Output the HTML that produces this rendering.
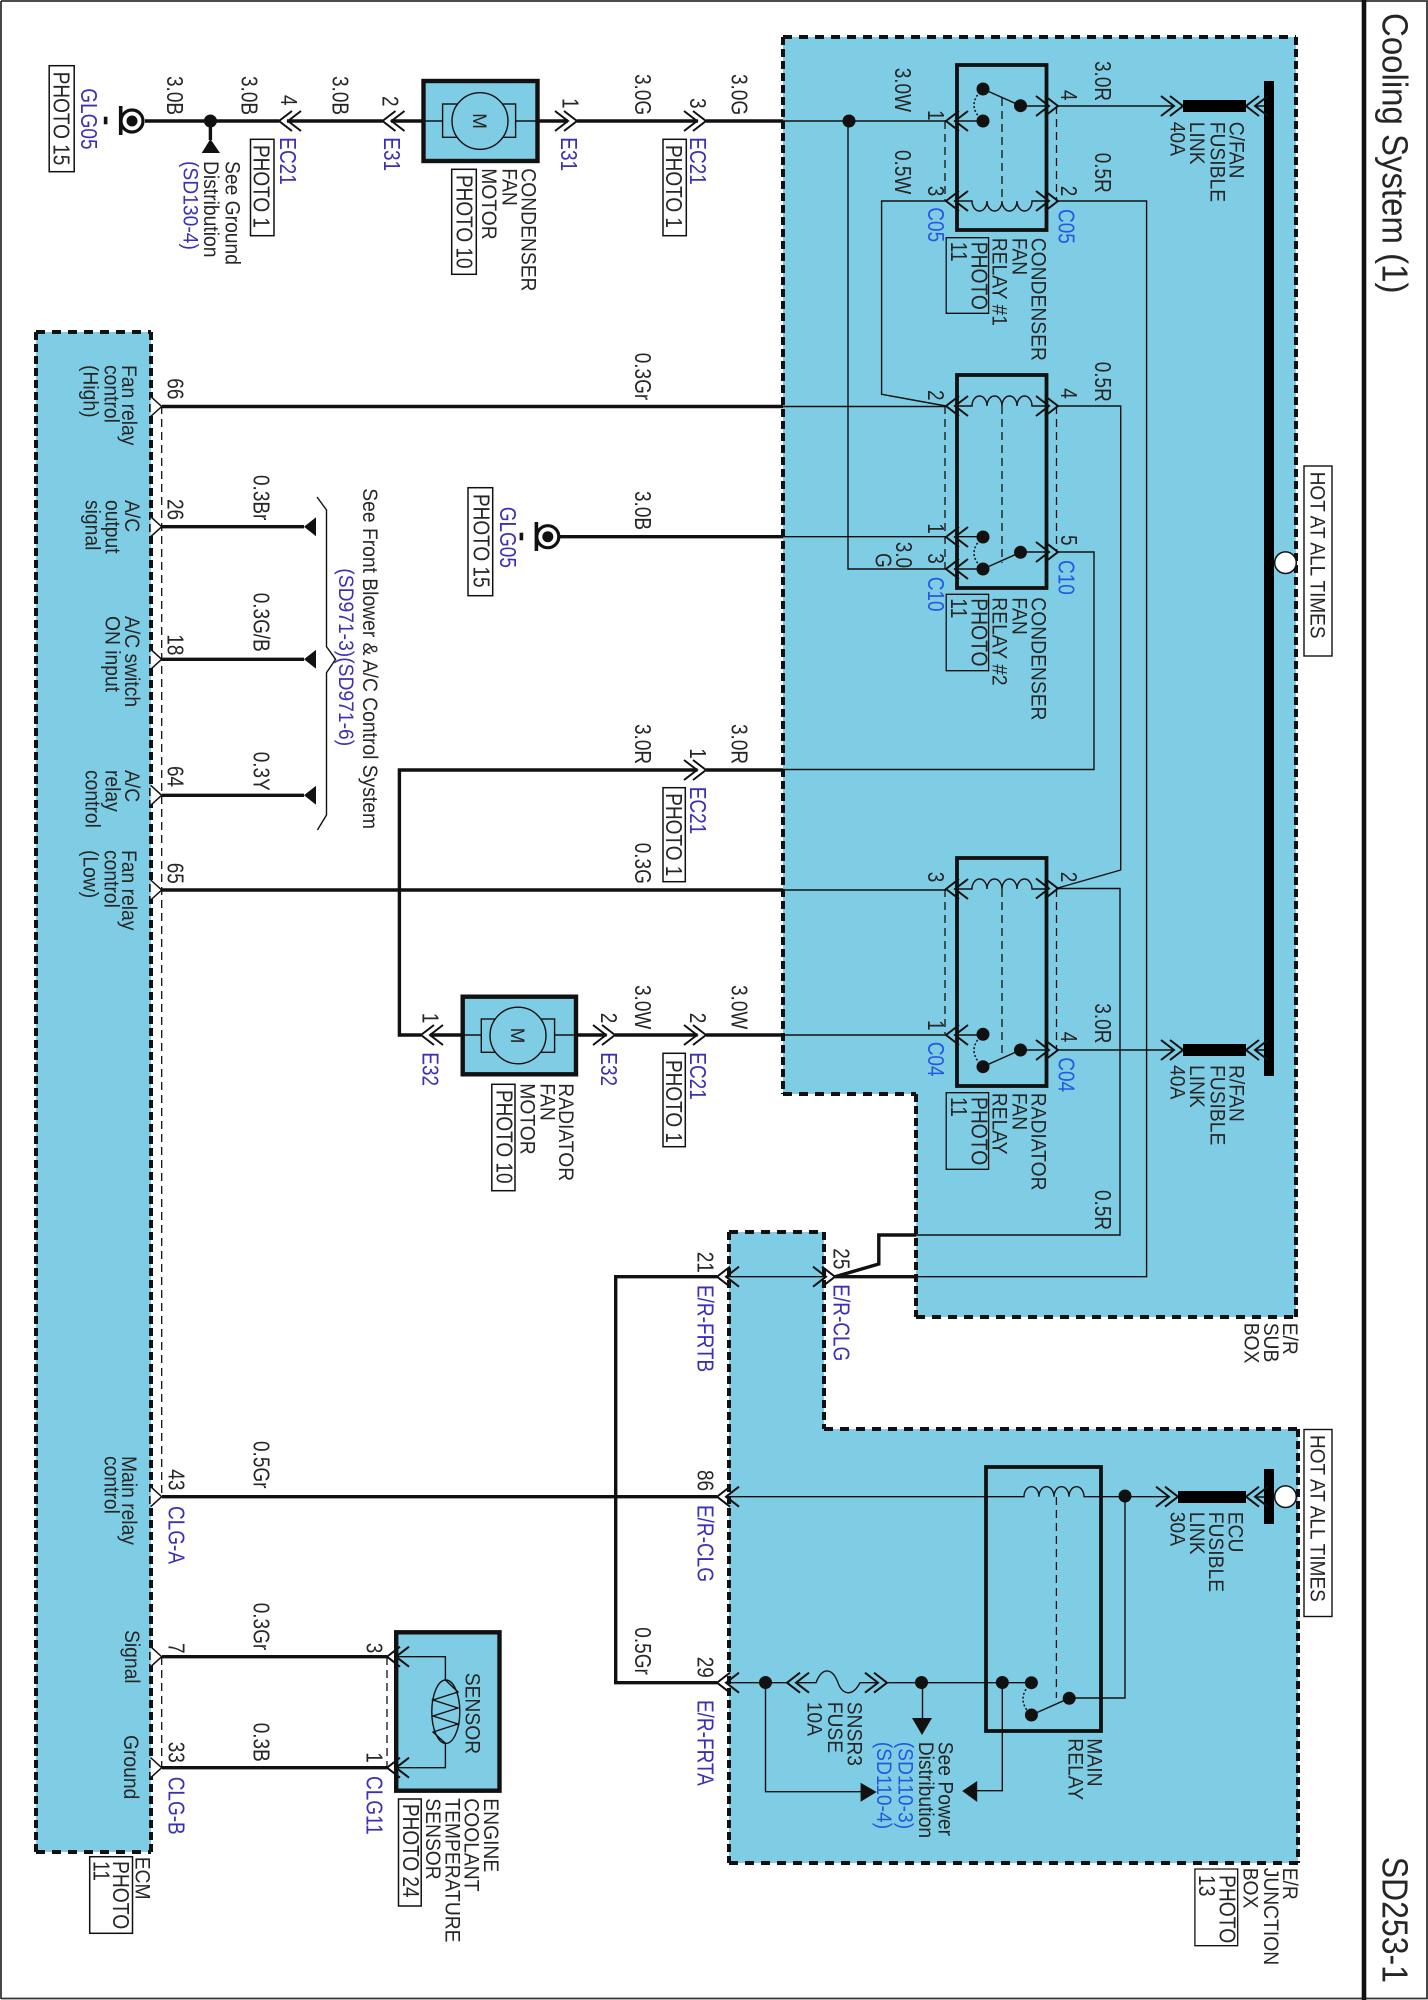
<!DOCTYPE html>
<html><head><meta charset="utf-8"><title>Cooling System (1)</title>
<style>
html,body{margin:0;padding:0;background:#fff}
svg{display:block;filter:blur(0.35px)}
text{font-family:"Liberation Sans",sans-serif;fill:#262626}
.a{font-size:19px}
.b{font-size:19.3px}
.u{fill:#3b30b4}
.c{fill:#2458e0}
.w{fill:none;stroke:#111;stroke-width:3.4}
.n{fill:none;stroke:#111;stroke-width:1.4}
.d{fill:none;stroke:#111;stroke-width:1.3;stroke-dasharray:8 5}
.dh{fill:none;stroke:#111;stroke-width:4;stroke-dasharray:9 7}
.dv{fill:none;stroke:#111;stroke-width:4;stroke-dasharray:8 4}
.o{fill:none;stroke:#111;stroke-width:2}
.p{fill:#fff;stroke:#111;stroke-width:1.5}
.q{fill:none;stroke:#111;stroke-width:1.3}
.r{fill:none;stroke:#111;stroke-width:3.8}
.k{fill:#7fcde4;stroke:#111;stroke-width:4.4}
.m{fill:#7fcde4;stroke:#111;stroke-width:1.4}
.s{fill:none;stroke:#111;stroke-width:1.5;stroke-dasharray:2 2}
</style></head><body>
<svg width="1428" height="2000" viewBox="0 0 1428 2000" xmlns="http://www.w3.org/2000/svg">
<defs>
<path id="L" class="o" d="M13-10L0 0L13 10M22-10L9 0L22 10"/>
<path id="R" class="o" d="M-13-10L0 0L-13 10M-22-10L-9 0L-22 10"/>
<path id="P" class="p" d="M-11-10L0 0L-11 10"/>
<circle id="D" r="6.5" fill="#111"/>
<path id="T" fill="#111" d="M0 0L12-9.5V9.5Z"/>
</defs>
<rect width="1428" height="2000" fill="#fff"/>
<path d="M1 1H1427V1998.5H1" fill="none" stroke="#333" stroke-width="1.8"/>
<path d="M1 1V1999" fill="none" stroke="#333" stroke-width="1.8"/>
<path d="M1364 0V2000" fill="none" stroke="#111" stroke-width="4.6"/>

<!-- regions -->
<path fill="#7fcde4" d="M36 332H151V1852H36Z"/>
<path class="dh" d="M36 332H151M36 1852H151"/><path class="dv" d="M36 332V1852M151 332V1852"/>
<path fill="#7fcde4" d="M783 37H1296V1317H916V1094H783Z"/>
<path class="dh" d="M783 37H1296M783 1094H916M916 1317H1296"/><path class="dv" d="M783 37V1094M916 1094V1317M1296 37V1317"/>
<path fill="#7fcde4" d="M729 1232H824V1429H1298V1863H729Z"/>
<path class="dh" d="M729 1232H824M824 1429H1298M729 1863H1298"/><path class="dv" d="M729 1232V1863M824 1232V1429M1298 1429V1863"/>
<rect fill="#7fcde4" x="396.2" y="1632.3" width="103.3" height="158.4"/>

<!-- bus -->
<rect x="1264" y="81" width="10" height="995" fill="#000"/>
<rect x="1264" y="1469" width="10" height="55" fill="#000"/>
<rect x="1304" y="466" width="28" height="190" fill="#fff" stroke="#111" stroke-width="1.4"/>
<rect x="1304" y="1429.5" width="28" height="187" fill="#fff" stroke="#111" stroke-width="1.4"/>
<circle cx="1285.5" cy="562.7" r="10.8" fill="#fff" stroke="#111" stroke-width="1.5"/>
<circle cx="1285.5" cy="1496.7" r="10.8" fill="#fff" stroke="#111" stroke-width="1.5"/>

<!-- thick wires -->
<path class="w" d="M145 121H279M287 121H382.5M391 121H423.5M537 121H568M577 121H698M706 121H783"/>
<path class="w" d="M162 406.5H783M162 526.7H304M162 659.3H304M162 795.3H304M162 890H783"/>
<path class="w" d="M560 536.7H783M783 770H706M697.6 770H399.4V1035H421M430 1035H462.7M576 1035H606.6M615 1035H697.6M706 1035H783"/>
<path class="w" d="M916 1276.7H835M916 1235H878.8V1264L835 1276.7"/>
<path class="w" d="M717 1276.7H615.7V1682.7H717M162 1496.7H717M162 1656.7H387M162 1767.7H387"/>
<path class="w" d="M210.4 121V140"/>

<!-- thin wires -->
<path class="n" d="M783 121H946M955 121H983M848 121V569H946M955 569H983M1020 106H1049M1058 106H1174"/>
<path class="n" d="M955 201H972a7.5 10 0 0 0 15 0a7.5 10 0 0 0 15 0a7.5 10 0 0 0 15 0a7.5 10 0 0 0 15 0H1049"/>
<path class="n" d="M1058 201H1146.6V1276.7H916M946 201H881.6V394.3L946 406"/>
<path class="n" d="M783 406.5H946M955 406H972a7.5 10 0 0 1 15 0a7.5 10 0 0 1 15 0a7.5 10 0 0 1 15 0a7.5 10 0 0 1 15 0H1049"/>
<path class="n" d="M1058 406H1120.7V870L1056 888.5H1120V1235H916"/>
<path class="n" d="M783 536.7H946M955 536.7H983M1020 552H1049M1058 552H1094V769.5H783"/>
<path class="n" d="M783 890H946M955 889H972a7.5 10 0 0 1 15 0a7.5 10 0 0 1 15 0a7.5 10 0 0 1 15 0a7.5 10 0 0 1 15 0H1049"/>
<path class="n" d="M783 1035H946M955 1035H983M1020 1050H1049M1058 1050H1174"/>
<path class="n" d="M726 1276.7H825"/>
<path class="n" d="M726 1496.7H1024a7.5 10 0 0 1 15 0a7.5 10 0 0 1 15 0a7.5 10 0 0 1 15 0a7.5 10 0 0 1 15 0H1170M1125 1497V1698H1069"/>
<path class="n" d="M726 1682.7H787M796 1682.7H816C822 1667 832 1667 838 1682.7C842 1694 852 1698 860 1682.7H878M887 1682.7H1031"/>
<path class="n" d="M922.5 1682.7V1720M765.5 1682.7V1791.7H862M1002.3 1682.7V1790.7H975"/>
<path class="n" d="M1255 106H1264M1255 1050H1264M1255 1497H1264"/>
<path class="n" d="M397 1656.7H445.4V1680M445.4 1743.3V1767.7H397"/>

<!-- dashed -->
<path class="d" d="M161.7 406V1497M161.7 1657V1768M387 1657V1768"/>
<path class="d" d="M945 121V201M945 406V569M945 889V1034M1056.5 106V201M1056.5 406V552M1056.5 889V1050M1002 98V201M1002 406V563M1002 889V1057M1056.4 1497V1698"/>

<!-- relays -->
<rect class="r" x="957" y="65" width="89.5" height="165"/>
<rect class="r" x="957" y="375" width="89.5" height="213"/>
<rect class="r" x="957" y="858" width="89.5" height="228"/>
<rect class="r" x="986" y="1467" width="115" height="264"/>

<!-- contacts -->
<path class="n" d="M983 89L1020.5 105.7M983 569L1020.5 552.3M983 1066.7L1020.5 1050M1031.4 1715L1069 1698.3"/>
<path class="s" d="M983 89Q965 105 983 121M983 537Q965 553 983 569M983 1034Q965 1050 983 1067M1031 1683Q1015 1699 1031 1715"/>
<use href="#D" x="983" y="89"/><use href="#D" x="983" y="121"/><use href="#D" x="1020.5" y="105.7"/>
<use href="#D" x="983" y="537"/><use href="#D" x="983" y="569"/><use href="#D" x="1020.5" y="552.3"/>
<use href="#D" x="983" y="1034.3"/><use href="#D" x="983" y="1066.7"/><use href="#D" x="1020.5" y="1050"/>
<use href="#D" x="1031.4" y="1682.7"/><use href="#D" x="1031.4" y="1715"/><use href="#D" x="1069.2" y="1698.3"/>
<use href="#D" x="849" y="121"/><use href="#D" x="210.4" y="121"/>
<use href="#D" x="1125" y="1496"/><use href="#D" x="765.5" y="1682.5"/><use href="#D" x="921.5" y="1682.5"/><use href="#D" x="1002.3" y="1682.5"/>

<!-- connectors -->
<use href="#L" x="279" y="121"/><use href="#L" x="382.5" y="121"/><use href="#R" x="577" y="121"/><use href="#R" x="706" y="121"/>
<use href="#R" x="706" y="770"/><use href="#L" x="421" y="1035"/><use href="#R" x="615" y="1035"/><use href="#R" x="706" y="1035"/>
<use href="#L" x="946" y="121"/><use href="#L" x="946" y="201"/><use href="#R" x="1058" y="106"/><use href="#R" x="1058" y="201"/>
<use href="#L" x="946" y="406"/><use href="#L" x="946" y="537"/><use href="#L" x="946" y="569"/><use href="#R" x="1058" y="406"/><use href="#R" x="1058" y="552"/>
<use href="#L" x="946" y="889"/><use href="#L" x="946" y="1035"/><use href="#R" x="1058" y="888.5"/><use href="#R" x="1058" y="1050"/>
<use href="#R" x="1183" y="106"/><use href="#R" x="1183" y="1050"/><use href="#R" x="1178" y="1496.7"/>
<use href="#L" x="1246" y="106"/><use href="#L" x="1246" y="1050"/><use href="#L" x="1246" y="1496.7"/>
<use href="#L" x="717" y="1276.7"/><use href="#L" x="717" y="1496.7"/><use href="#L" x="717" y="1682.7"/>
<use href="#R" x="835" y="1276.7"/>
<use href="#L" x="787" y="1682.7"/><use href="#R" x="887" y="1682.7"/>
<use href="#L" x="387" y="1656.7"/><use href="#L" x="387" y="1767.7"/>
<use href="#P" x="161.7" y="406.5"/><use href="#P" x="161.7" y="526.7"/><use href="#P" x="161.7" y="659.3"/><use href="#P" x="161.7" y="795.3"/><use href="#P" x="161.7" y="890"/><use href="#P" x="161.7" y="1496.7"/><use href="#P" x="161.7" y="1656.7"/><use href="#P" x="161.7" y="1767.7"/>

<!-- fuses -->
<rect x="1183" y="100" width="63" height="12" fill="#000"/>
<rect x="1183" y="1044" width="63" height="12" fill="#000"/>
<rect x="1178" y="1491" width="68" height="12" fill="#000"/>

<!-- triangles -->
<path fill="#111" d="M201.7 153L210.4 139L220 153Z"/>
<use href="#T" x="304" y="526.7"/><use href="#T" x="304" y="659.3"/><use href="#T" x="304" y="795.3"/>
<path fill="#111" d="M912 1718H932L922 1735Z"/>
<path fill="#111" d="M860.6 1782.7V1801.7L876.6 1792Z"/>
<path fill="#111" d="M977.2 1781V1802L962.2 1791Z"/>

<!-- brace -->
<path class="n" d="M317 497L326.5 510V646.7L335.6 659.3L326.5 672.7V815L317.4 830"/>

<!-- grounds -->
<g fill="none" stroke="#111">
<circle cx="132" cy="121" r="11" stroke-width="3.2"/><circle cx="132" cy="121" r="5.5" fill="#111" stroke="none"/>
<path d="M120.7 106V135" stroke-width="3.6"/><path d="M105.6 116.7V124.3" stroke-width="3.6"/>
<circle cx="547.8" cy="536.7" r="11" stroke-width="3.2"/><circle cx="547.8" cy="536.7" r="5.5" fill="#111" stroke="none"/>
<path d="M536.4 522V551" stroke-width="3.6"/><path d="M521.4 532.7V540.3" stroke-width="3.6"/>
</g>

<!-- motors -->
<rect class="k" x="423.5" y="81" width="114" height="80"/>
<rect class="m" x="442.6" y="104" width="73" height="33.3"/>
<path class="n" d="M423.5 121H442.6M515.5 121H537.5"/>
<ellipse class="m" cx="480" cy="121" rx="28" ry="28.3"/>
<text class="a" text-anchor="middle" transform="matrix(0 1 -1 0 473 121)">M</text>
<rect class="k" x="462.7" y="996.7" width="113.3" height="77.6"/>
<rect class="m" x="481.3" y="1019" width="73.3" height="33.3"/>
<path class="n" d="M462.7 1035H481.3M554.6 1035H576"/>
<ellipse class="m" cx="518" cy="1035.5" rx="28" ry="28.3"/>
<text class="a" text-anchor="middle" transform="matrix(0 1 -1 0 511 1035.5)">M</text>

<!-- sensor -->
<rect fill="none" stroke="#111" stroke-width="4.4" x="396.2" y="1632.3" width="103.3" height="158.4"/>
<ellipse class="n" cx="445.8" cy="1711.7" rx="14" ry="31.7"/>
<path class="n" d="M445.4 1680L458 1692L433 1700L458 1708L433 1716L458 1724L433 1732L445.4 1743.3"/>

<!-- photo boxes -->
<g class="p">
<rect class="p" x="49.2" y="65.7" width="25" height="106"/>
<rect class="p" x="250.5" y="139.3" width="23.5" height="96.4"/>
<rect class="p" x="451.7" y="169.3" width="24.6" height="105"/>
<rect class="p" x="663" y="139.3" width="23.3" height="96.4"/>
<rect class="p" x="468" y="487.7" width="24.7" height="108"/>
<rect class="p" x="663" y="787.7" width="22.3" height="94"/>
<rect class="p" x="663" y="1053.3" width="22.3" height="93.4"/>
<rect class="p" x="491.8" y="1084.3" width="23.2" height="106.4"/>
<rect class="p" x="398.5" y="1799" width="22.7" height="107"/>
<rect class="p" x="89.7" y="1856.7" width="42.8" height="76.6"/>
</g>
<path class="q" d="M946.2 237.7H988.6V313.3H946.2ZM946.2 594.3H988.6V670.7H946.2ZM946.2 1092.7H988.6V1169.3H946.2ZM1194.9 1869H1237.7V1945.7H1194.9Z"/>

<!-- Title -->
<text style="font-size:33px" transform="matrix(0 1 -1.1 0 1382.5 13)">Cooling System (1)</text>
<text style="font-size:32px" transform="matrix(0 1 -1.13 0 1382.5 1856.7)">SD253-1</text>

<!-- labels type a -->
<g class="a">
<text class="a" transform="matrix(0 1 -1.1 0 1310.5 471.7)">HOT AT ALL TIMES</text>
<text class="a" transform="matrix(0 1 -1.1 0 1310.5 1435)">HOT AT ALL TIMES</text>
<text class="a u" transform="matrix(0 1 -1.2 0 81 88.3)">GLG05</text>
<text class="a" transform="matrix(0 1 -1.2 0 53.7 71.7)">PHOTO 15</text>
<text class="a" transform="matrix(0 1 -1.2 0 167 76)">3.0B</text>
<text class="a" transform="matrix(0 1 -1.2 0 241.3 76)">3.0B</text>
<text class="a" transform="matrix(0 1 -1.2 0 332.4 76)">3.0B</text>
<text class="a" transform="matrix(0 1 -1.2 0 281 95)">4</text>
<text class="a" transform="matrix(0 1 -1.2 0 382.5 96)">2</text>
<text class="a" transform="matrix(0 1 -1.2 0 562.4 98)">1</text>
<text class="a" transform="matrix(0 1 -1.2 0 635.2 74)">3.0G</text>
<text class="a" transform="matrix(0 1 -1.2 0 690 98)">3</text>
<text class="a u" transform="matrix(0 1 -1.2 0 280 137.3)">EC21</text>
<text class="a u" transform="matrix(0 1 -1.2 0 384 137.3)">E31</text>
<text class="a u" transform="matrix(0 1 -1.2 0 561 137.3)">E31</text>
<text class="a u" transform="matrix(0 1 -1.2 0 690 137.3)">EC21</text>
<text class="a" transform="matrix(0 1 -1.2 0 253.6 145)">PHOTO 1</text>
<text class="a" transform="matrix(0 1 -1.2 0 666 145)">PHOTO 1</text>
<text class="a" transform="matrix(0 1 -1.2 0 456.7 175)">PHOTO 10</text>
<text class="a" transform="matrix(0 1 -1.2 0 167.6 378.3)">66</text>
<text class="a" transform="matrix(0 1 -1.2 0 635.2 352.7)">0.3Gr</text>
<text class="a" transform="matrix(0 1 -1.2 0 167.6 499)">26</text>
<text class="a" transform="matrix(0 1 -1.2 0 253.6 475)">0.3Br</text>
<text class="a" transform="matrix(0 1 -1.2 0 253.6 592.7)">0.3G/B</text>
<text class="a" transform="matrix(0 1 -1.2 0 167.6 634.3)">18</text>
<text class="a" transform="matrix(0 1 -1.2 0 167.6 766)">64</text>
<text class="a" transform="matrix(0 1 -1.2 0 253.6 751.7)">0.3Y</text>
<text class="a" transform="matrix(0 1 -1.2 0 167.6 862.7)">65</text>
<text class="a u" transform="matrix(0 1 -1.2 0 500 506.7)">GLG05</text>
<text class="a" transform="matrix(0 1 -1.2 0 473.6 494)">PHOTO 15</text>
<text class="a" transform="matrix(0 1 -1.2 0 635.2 491)">3.0B</text>
<text class="a" transform="matrix(0 1 -1.2 0 635.2 724)">3.0R</text>
<text class="a" transform="matrix(0 1 -1.2 0 690 748.3)">1</text>
<text class="a u" transform="matrix(0 1 -1.2 0 690 786.7)">EC21</text>
<text class="a" transform="matrix(0 1 -1.2 0 666 793.3)">PHOTO 1</text>
<text class="a" transform="matrix(0 1 -1.2 0 635.2 842.7)">0.3G</text>
<text class="a" transform="matrix(0 1 -1.2 0 635.2 985)">3.0W</text>
<text class="a" transform="matrix(0 1 -1.2 0 690 1012.7)">2</text>
<text class="a" transform="matrix(0 1 -1.2 0 422.6 1012.7)">1</text>
<text class="a" transform="matrix(0 1 -1.2 0 601 1012.7)">2</text>
<text class="a u" transform="matrix(0 1 -1.2 0 422.6 1052.3)">E32</text>
<text class="a u" transform="matrix(0 1 -1.2 0 601 1052.3)">E32</text>
<text class="a u" transform="matrix(0 1 -1.2 0 690 1052.3)">EC21</text>
<text class="a" transform="matrix(0 1 -1.2 0 666 1060)">PHOTO 1</text>
<text class="a" transform="matrix(0 1 -1.2 0 496.4 1090)">PHOTO 10</text>
<text class="a" transform="matrix(0 1 -1.2 0 697.6 1251.7)">21</text>
<text class="a u" transform="matrix(0 1 -1.2 0 697.6 1285)">E/R-FRTB</text>
<text class="a" transform="matrix(0 1 -1.2 0 697.6 1470)">86</text>
<text class="a" transform="matrix(0 1 -1.2 0 635.2 1627.3)">0.5Gr</text>
<text class="a" transform="matrix(0 1 -1.2 0 697.6 1656.7)">29</text>
<text class="a u" transform="matrix(0 1 -1.2 0 697.6 1700)">E/R-FRTA</text>
<text class="a u" transform="matrix(0 1 -1.2 0 697.6 1505)">E/R-CLG</text>
<text class="a" transform="matrix(0 1 -1.2 0 168.5 1469.3)">43</text>
<text class="a" transform="matrix(0 1 -1.2 0 253.6 1441)">0.5Gr</text>
<text class="a u" transform="matrix(0 1 -1.2 0 168.5 1506)">CLG-A</text>
<text class="a" transform="matrix(0 1 -1.2 0 168.5 1643)">7</text>
<text class="a" transform="matrix(0 1 -1.2 0 253.6 1602.7)">0.3Gr</text>
<text class="a" transform="matrix(0 1 -1.2 0 366.6 1642.7)">3</text>
<text class="a" transform="matrix(0 1 -1.2 0 168.5 1741.7)">33</text>
<text class="a" transform="matrix(0 1 -1.2 0 253.6 1722.7)">0.3B</text>
<text class="a" transform="matrix(0 1 -1.2 0 366.6 1752.3)">1</text>
<text class="a u" transform="matrix(0 1 -1.2 0 168.5 1776.7)">CLG-B</text>
<text class="a u" transform="matrix(0 1 -1.2 0 366.6 1776)">CLG11</text>
<text class="a" transform="matrix(0 1 -1.2 0 403 1804)">PHOTO 24</text>
<text class="a" transform="matrix(0 1 -1.2 0 731.3 74)">3.0G</text>
<text class="a" transform="matrix(0 1 -1.2 0 894.8 67.7)">3.0W</text>
<text class="a" transform="matrix(0 1 -1.2 0 894.8 150)">0.5W</text>
<text class="a" transform="matrix(0 1 -1.2 0 1095 61)">3.0R</text>
<text class="a" transform="matrix(0 1 -1.2 0 1095 152.7)">0.5R</text>
<text class="a" transform="matrix(0 1 -1.2 0 1095 361.7)">0.5R</text>
<text class="a" transform="matrix(0 1 -1.2 0 928 110)">1</text>
<text class="a" transform="matrix(0 1 -1.2 0 928 185.7)">3</text>
<text class="a" transform="matrix(0 1 -1.2 0 1061 90)">4</text>
<text class="a" transform="matrix(0 1 -1.2 0 1061 185.7)">2</text>
<text class="a c" transform="matrix(0 1 -1.2 0 928 207.3)">C05</text>
<text class="a c" transform="matrix(0 1 -1.2 0 1058.7 209)">C05</text>
<text class="a" transform="matrix(0 1 -1.2 0 928 390)">2</text>
<text class="a" transform="matrix(0 1 -1.2 0 1061 388.3)">4</text>
<text class="a" transform="matrix(0 1 -1.2 0 928 523.3)">1</text>
<text class="a" transform="matrix(0 1 -1.2 0 928 553.3)">3</text>
<text class="a" transform="matrix(0 1 -1.2 0 896 541.7)">3.0</text>
<text class="a" transform="matrix(0 1 -1.2 0 875.7 553)">G</text>
<text class="a" transform="matrix(0 1 -1.2 0 1061 535)">5</text>
<text class="a c" transform="matrix(0 1 -1.2 0 928 576.7)">C10</text>
<text class="a c" transform="matrix(0 1 -1.2 0 1058.7 560)">C10</text>
<text class="a" transform="matrix(0 1 -1.2 0 731.3 724)">3.0R</text>
<text class="a" transform="matrix(0 1 -1.2 0 928 871.7)">3</text>
<text class="a" transform="matrix(0 1 -1.2 0 1061 871.7)">2</text>
<text class="a" transform="matrix(0 1 -1.2 0 731.3 985)">3.0W</text>
<text class="a" transform="matrix(0 1 -1.2 0 928 1020)">1</text>
<text class="a" transform="matrix(0 1 -1.2 0 1061 1031.7)">4</text>
<text class="a c" transform="matrix(0 1 -1.2 0 928 1041.7)">C04</text>
<text class="a c" transform="matrix(0 1 -1.2 0 1058.7 1057.3)">C04</text>
<text class="a" transform="matrix(0 1 -1.2 0 1095 1003.3)">3.0R</text>
<text class="a" transform="matrix(0 1 -1.2 0 1095 1190)">0.5R</text>
<text class="a" transform="matrix(0 1 -1.2 0 833.3 1248.3)">25</text>
<text class="a u" transform="matrix(0 1 -1.2 0 833.3 1284.3)">E/R-CLG</text>
</g>

<!-- labels type b -->
<text class="b" transform="matrix(0 1 -1.1 0 225.4 161)">See Ground</text>
<text class="b" transform="matrix(0 1 -1.1 0 204 161)">Distribution</text>
<text class="b u" transform="matrix(0 1 -1.1 0 183.5 161)">(SD130-4)</text>
<text class="b" transform="matrix(0 1 -1.1 0 521.4 168.3)">CONDENSER</text>
<text class="b" transform="matrix(0 1 -1.1 0 502.3 168.3)">FAN</text>
<text class="b" transform="matrix(0 1 -1.1 0 481.8 168.3)">MOTOR</text>
<text class="b" transform="matrix(0 1 -1.1 0 122 365)">Fan relay</text>
<text class="b" transform="matrix(0 1 -1.1 0 104.7 365)">control</text>
<text class="b" transform="matrix(0 1 -1.1 0 83.3 365)">(High)</text>
<text class="b" transform="matrix(0 1 -1.1 0 125 500)">A/C</text>
<text class="b" transform="matrix(0 1 -1.1 0 105.6 500)">output</text>
<text class="b" transform="matrix(0 1 -1.1 0 85.6 500)">signal</text>
<text class="b" transform="matrix(0 1 -1.1 0 125 616)">A/C switch</text>
<text class="b" transform="matrix(0 1 -1.1 0 105.6 616)">ON input</text>
<text class="b" transform="matrix(0 1 -1.1 0 125 770)">A/C</text>
<text class="b" transform="matrix(0 1 -1.1 0 105.6 770)">relay</text>
<text class="b" transform="matrix(0 1 -1.1 0 85.6 770)">control</text>
<text class="b" transform="matrix(0 1 -1.1 0 122 850)">Fan relay</text>
<text class="b" transform="matrix(0 1 -1.1 0 104.7 850)">control</text>
<text class="b" transform="matrix(0 1 -1.1 0 83.3 850)">(Low)</text>
<text class="b" transform="matrix(0 1 -1.1 0 363 488.3)">See Front Blower &amp; A/C Control System</text>
<text class="b u" transform="matrix(0 1 -1.1 0 339 568.3)">(SD971-3)(SD971-6)</text>
<text class="b" transform="matrix(0 1 -1.1 0 559.2 1083.3)">RADIATOR</text>
<text class="b" transform="matrix(0 1 -1.1 0 540.5 1083.3)">FAN</text>
<text class="b" transform="matrix(0 1 -1.1 0 520.5 1083.3)">MOTOR</text>
<text class="b" transform="matrix(0 1 -1.1 0 122 1456)">Main relay</text>
<text class="b" transform="matrix(0 1 -1.1 0 104.7 1456)">control</text>
<text class="b" transform="matrix(0 1 -1.1 0 125 1630)">Signal</text>
<text class="b" transform="matrix(0 1 -1.1 0 124 1735)">Ground</text>
<text class="b" transform="matrix(0 1 -1.1 0 465.4 1672.7)">SENSOR</text>
<text class="b" transform="matrix(0 1 -1.1 0 484 1798.3)">ENGINE</text>
<text class="b" transform="matrix(0 1 -1.1 0 464.5 1798.3)">COOLANT</text>
<text class="b" transform="matrix(0 1 -1.1 0 445.4 1798.3)">TEMPERATURE</text>
<text class="b" transform="matrix(0 1 -1.1 0 425.8 1798.3)">SENSOR</text>
<text class="b" transform="matrix(0 1 -1.1 0 135.7 1856.7)">ECM</text>
<text class="b" transform="matrix(0 1 -1.2 0 113 1861)">PHOTO</text>
<text class="b" transform="matrix(0 1 -1.2 0 93.4 1861)">11</text>
<text class="b" transform="matrix(0 1 -1.1 0 1031.4 237.7)">CONDENSER</text>
<text class="b" transform="matrix(0 1 -1.1 0 1012.3 237.7)">FAN</text>
<text class="b" transform="matrix(0 1 -1.1 0 992.7 237.7)">RELAY #1</text>
<text class="b" transform="matrix(0 1 -1.2 0 971.3 241.7)">PHOTO</text>
<text class="b" transform="matrix(0 1 -1.2 0 950.8 241.7)">11</text>
<text class="b" transform="matrix(0 1 -1.1 0 1229.5 121.7)">C/FAN</text>
<text class="b" transform="matrix(0 1 -1.1 0 1210.4 121.7)">FUSIBLE</text>
<text class="b" transform="matrix(0 1 -1.1 0 1189.9 121.7)">LINK</text>
<text class="b" transform="matrix(0 1 -1.1 0 1170.7 121.7)">40A</text>
<text class="b" transform="matrix(0 1 -1.1 0 1031.4 597.3)">CONDENSER</text>
<text class="b" transform="matrix(0 1 -1.1 0 1012.3 597.3)">FAN</text>
<text class="b" transform="matrix(0 1 -1.1 0 992.7 597.3)">RELAY #2</text>
<text class="b" transform="matrix(0 1 -1.2 0 971.3 598.3)">PHOTO</text>
<text class="b" transform="matrix(0 1 -1.2 0 950.8 598.3)">11</text>
<text class="b" transform="matrix(0 1 -1.1 0 1229.5 1065)">R/FAN</text>
<text class="b" transform="matrix(0 1 -1.1 0 1210.4 1065)">FUSIBLE</text>
<text class="b" transform="matrix(0 1 -1.1 0 1189.9 1065)">LINK</text>
<text class="b" transform="matrix(0 1 -1.1 0 1170.7 1065)">40A</text>
<text class="b" transform="matrix(0 1 -1.1 0 1031.4 1092.7)">RADIATOR</text>
<text class="b" transform="matrix(0 1 -1.1 0 1012.3 1092.7)">FAN</text>
<text class="b" transform="matrix(0 1 -1.1 0 992.7 1092.7)">RELAY</text>
<text class="b" transform="matrix(0 1 -1.2 0 971.3 1097)">PHOTO</text>
<text class="b" transform="matrix(0 1 -1.2 0 950.8 1097)">11</text>
<text class="b" transform="matrix(0 1 -1.1 0 1283.2 1322.7)">E/R</text>
<text class="b" transform="matrix(0 1 -1.1 0 1264 1322.7)">SUB</text>
<text class="b" transform="matrix(0 1 -1.1 0 1244.5 1322.7)">BOX</text>
<text class="b" transform="matrix(0 1 -1.1 0 1228.6 1511.7)">ECU</text>
<text class="b" transform="matrix(0 1 -1.1 0 1209 1511.7)">FUSIBLE</text>
<text class="b" transform="matrix(0 1 -1.1 0 1189.9 1511.7)">LINK</text>
<text class="b" transform="matrix(0 1 -1.1 0 1170.7 1511.7)">30A</text>
<text class="b" transform="matrix(0 1 -1.1 0 1087.4 1738.3)">MAIN</text>
<text class="b" transform="matrix(0 1 -1.1 0 1068.3 1738.3)">RELAY</text>
<text class="b" transform="matrix(0 1 -1.1 0 938.5 1741.7)">See Power</text>
<text class="b" transform="matrix(0 1 -1.1 0 919 1741.7)">Distribution</text>
<text class="b c" transform="matrix(0 1 -1.1 0 898.4 1741.7)">(SD110-3)</text>
<text class="b c" transform="matrix(0 1 -1.1 0 877 1741.7)">(SD110-4)</text>
<text class="b" transform="matrix(0 1 -1.1 0 847.4 1701.7)">SNSR3</text>
<text class="b" transform="matrix(0 1 -1.1 0 827.8 1701.7)">FUSE</text>
<text class="b" transform="matrix(0 1 -1.1 0 807.4 1701.7)">10A</text>
<text class="b" transform="matrix(0 1 -1.1 0 1283.2 1867.7)">E/R</text>
<text class="b" transform="matrix(0 1 -1.1 0 1264 1867.7)">JUNCTION</text>
<text class="b" transform="matrix(0 1 -1.1 0 1243.6 1867.7)">BOX</text>
<text class="b" transform="matrix(0 1 -1.2 0 1219.5 1875)">PHOTO</text>
<text class="b" transform="matrix(0 1 -1.2 0 1199 1875)">13</text>
</svg>
</body></html>
